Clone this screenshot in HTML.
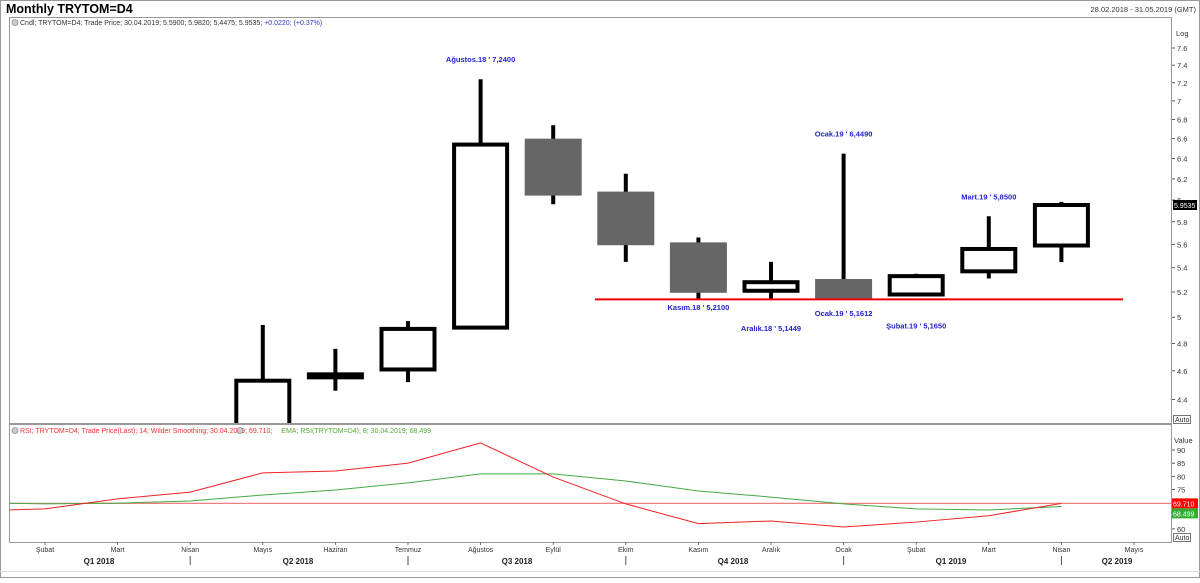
<!DOCTYPE html>
<html><head><meta charset="utf-8">
<style>
body{margin:0;background:#fff;font-family:"Liberation Sans",sans-serif;}
svg text{font-family:"Liberation Sans",sans-serif;}
</style></head>
<body>
<svg id="c" width="1200" height="578" xmlns="http://www.w3.org/2000/svg">
<rect x="0" y="0" width="1200" height="578" fill="#fff"/>
<rect x="0.5" y="0.5" width="1199" height="577" fill="none" stroke="#999"/>
<text x="6" y="13" font-size="12.5" font-weight="bold" fill="#000">Monthly TRYTOM=D4</text>
<text x="1196" y="12" font-size="7.5" fill="#333" text-anchor="end">28.02.2018 - 31.05.2019 (GMT)</text>
<rect x="9.5" y="17.5" width="1162" height="406" fill="none" stroke="#999"/>
<rect x="9.5" y="424.5" width="1162" height="118" fill="none" stroke="#999"/>
<text x="20" y="25" font-size="7" fill="#333">Cndl; TRYTOM=D4; Trade Price; 30.04.2019; 5.5900; 5.9820; 5.4475; 5.9535; <tspan fill="#33c">+0.0220; (+0.37%)</tspan></text>
<circle cx="15" cy="22.5" r="3" fill="#ccc" stroke="#777" stroke-width="0.6"/>
<text x="20" y="433" font-size="7" fill="#e33">RSI; TRYTOM=D4; Trade Price(Last); 14; Wilder Smoothing; 30.04.2019; 69.710; <tspan dx="7" fill="#5a3">EMA; RSI(TRYTOM=D4); 8; 30.04.2019; 68.499</tspan></text>
<circle cx="15" cy="430.5" r="3" fill="#ccc" stroke="#777" stroke-width="0.6"/>
<circle cx="240" cy="430.5" r="3" fill="#ccc" stroke="#777" stroke-width="0.6"/>
<text x="1176" y="36" font-size="7.5" fill="#333">Log</text>
<text x="1174" y="443" font-size="7.5" fill="#333">Value</text>
<rect x="1173.5" y="415.5" width="17" height="8" fill="#fff" stroke="#555" stroke-width="0.8"/>
<text x="1175" y="422" font-size="7" fill="#333">Auto</text>
<rect x="1173.5" y="533.5" width="17" height="8" fill="#fff" stroke="#555" stroke-width="0.8"/>
<text x="1175" y="540" font-size="7" fill="#333">Auto</text>
<g id="g"></g>
</svg>
<script>
const months=["Şubat","Mart","Nisan","Mayıs","Haziran","Temmuz","Ağustos","Eylül","Ekim","Kasım","Aralık","Ocak","Şubat","Mart","Nisan","Mayıs"];
const opens =[null,null,null,4.15,4.565,4.61,4.92,6.58,6.06,5.60,5.21,5.29,5.18,5.37,5.59];
const highs =[null,null,null,4.94,4.76,4.97,7.24,6.74,6.25,5.66,5.45,6.449,5.35,5.85,5.982];
const lows  =[null,null,null,4.05,4.46,4.52,4.92,5.96,5.45,5.14,5.1449,5.1612,5.165,5.31,5.4475];
const closes=[null,null,null,4.53,4.575,4.91,6.54,6.06,5.61,5.21,5.28,5.16,5.33,5.56,5.9535];
const priceTicks=[7.6,7.4,7.2,7,6.8,6.6,6.4,6.2,6,5.8,5.6,5.4,5.2,5,4.8,4.6,4.4];
const rsiVals=[66.8,67.6,71.4,74.0,81.3,82.0,85.0,92.7,79.7,69.5,62.0,63.0,60.7,62.6,65.0,69.71];
const emaVals=[70.0,69.5,69.8,70.6,72.9,74.8,77.5,80.9,80.9,78.2,74.4,72.1,69.5,67.6,67.2,68.499];
const rsiTicks=[90,85,80,75,60];
const quarters=["Q1 2018","Q2 2018","Q3 2018","Q4 2018","Q1 2019","Q2 2019"];
const annotations=[["Ağustos.18 ' 7,2400",6,7.24,-1],["Ocak.19 ' 6,4490",11,6.449,-1],["Mart.19 ' 5,8500",13,5.85,-1],
 ["Kasım.18 ' 5,2100",9,5.21,1],["Aralık.18 ' 5,1449",10,5.1449,2],["Ocak.19 ' 5,1612",11,5.1612,1],["Şubat.19 ' 5,1650",12,5.165,2]];
const supportLevel=5.1449;
const rsiRef=69.71;

const NS="http://www.w3.org/2000/svg";
const g=document.getElementById('g');
function X(i){return 45+i*72.6;}
function Y(v){return 48+(Math.log(7.6)-Math.log(v))*643;}
function R(v){return 450+(90-v)*2.63;}
function el(t,a,txt){const e=document.createElementNS(NS,t);for(const k in a)e.setAttribute(k,a[k]);if(txt!==undefined)e.textContent=txt;g.appendChild(e);return e;}

const defs=el('defs',{});
defs.innerHTML='<clipPath id="cp"><rect x="10" y="18" width="1161" height="405"/></clipPath><clipPath id="cr"><rect x="10" y="425" width="1161" height="117"/></clipPath>';
const pg=el('g',{'clip-path':'url(#cp)'});
const rg=el('g',{'clip-path':'url(#cr)'});

priceTicks.forEach(v=>{
  const y=Y(v);
  el('line',{x1:1172,x2:1175,y1:y,y2:y,stroke:'#333','stroke-width':0.8});
  const t=el('text',{x:1177,y:y+3,'font-size':7.5,fill:'#333'},String(v));
  
  
});
rsiTicks.forEach(v=>{
  const y=R(v);
  el('line',{x1:1172,x2:1175,y1:y,y2:y,stroke:'#333','stroke-width':0.8});
  const t=el('text',{x:1177,y:y+3,'font-size':7.5,fill:'#333'},String(v));
  
  
});

for(let i=0;i<opens.length;i++){
  if(opens[i]==null)continue;
  const o=opens[i],h=highs[i],l=lows[i],c=closes[i],x=X(i);
  const up=c>=o;
  const top=Y(Math.max(o,c)),bot=Y(Math.min(o,c));
  const grp=document.createElementNS(NS,'g');pg.appendChild(grp);
  
  
  const w=document.createElementNS(NS,'line');
  w.setAttribute('x1',x);w.setAttribute('x2',x);w.setAttribute('y1',Y(h));w.setAttribute('y2',Y(l));
  w.setAttribute('stroke','#000');w.setAttribute('stroke-width',4);grp.appendChild(w);
  const r=document.createElementNS(NS,'rect');
  const hh=Math.max(bot-top,1);
  if(up){
    r.setAttribute('x',x-26.5);r.setAttribute('y',top);r.setAttribute('width',53);r.setAttribute('height',Math.max(hh,3));
    r.setAttribute('fill','#fff');r.setAttribute('stroke','#000');r.setAttribute('stroke-width',4);
  } else {
    r.setAttribute('x',x-28.5);r.setAttribute('y',top-2);r.setAttribute('width',57);r.setAttribute('height',hh+4);
    r.setAttribute('fill','#666');
  }
  grp.appendChild(r);
}
const sl=document.createElementNS(NS,'line');pg.appendChild(sl);
sl.setAttribute('x1',595);sl.setAttribute('x2',1123);sl.setAttribute('y1',Y(supportLevel)+0.5);sl.setAttribute('y2',Y(supportLevel)+0.5);
sl.setAttribute('stroke','#e00');sl.setAttribute('stroke-width',2);



annotations.forEach(a=>{
  const x=X(a[1]);
  const y = a[3]<0 ? Y(a[2])-17 : (a[3]==1? Y(a[2])+19 : Y(a[2])+32);
  const t=el('text',{x:x,y:y,'font-size':7.5,'font-weight':'bold',fill:'#22c','text-anchor':'middle'},a[0]);
  
  
});

const lp=closes[closes.length-1];
el('rect',{x:1173,y:Y(lp)-5,width:24,height:10,fill:'#000'});
el('text',{x:1174,y:Y(lp)+3,'font-size':7,fill:'#fff'},lp.toFixed(4));

const ref=document.createElementNS(NS,'line');rg.appendChild(ref);
ref.setAttribute('x1',10);ref.setAttribute('x2',1171);ref.setAttribute('y1',R(rsiRef));ref.setAttribute('y2',R(rsiRef));
ref.setAttribute('stroke','#f08080');ref.setAttribute('stroke-width',1.2);


function poly(vals,color,name){
  const p=document.createElementNS(NS,'polyline');rg.appendChild(p);
  p.setAttribute('points',vals.map((v,i)=>X(i-1)+','+R(v)).join(' '));
  p.setAttribute('fill','none');p.setAttribute('stroke',color);p.setAttribute('stroke-width',1);
  
  
}
poly(emaVals,'#4a4','ema-line');
poly(rsiVals,'#e22','rsi-line');
const rl=rsiVals[rsiVals.length-1],elv=emaVals[emaVals.length-1];
el('rect',{x:1172,y:R(rl)-5,width:26,height:10,fill:'#f00'});
el('text',{x:1173,y:R(rl)+3,'font-size':7,fill:'#fff'},rl.toFixed(3));
el('rect',{x:1172,y:R(rl)+5,width:26,height:10,fill:'#3a3'});
el('text',{x:1173,y:R(rl)+13,'font-size':7,fill:'#fff'},elv.toFixed(3));

months.forEach((m,i)=>{
  const x=X(i);
  el('line',{x1:x,x2:x,y1:542,y2:545,stroke:'#555','stroke-width':0.8});
  const t=el('text',{x:x,y:552,'font-size':7,fill:'#333','text-anchor':'middle'},m);
  
  
});
const qpos=[99,298,517,733,951,1117];
quarters.forEach((q,i)=>{
  const t=el('text',{x:qpos[i],y:564,'font-size':8,'font-weight':'bold',fill:'#222','text-anchor':'middle'},q);
  
  
});
[2,5,8,11,14].forEach(i=>el('line',{x1:X(i),x2:X(i),y1:556,y2:565,stroke:'#555','stroke-width':1}));
el('line',{x1:0,x2:1200,y1:571.5,y2:571.5,stroke:'#ddd'});
</script>
</body></html>
